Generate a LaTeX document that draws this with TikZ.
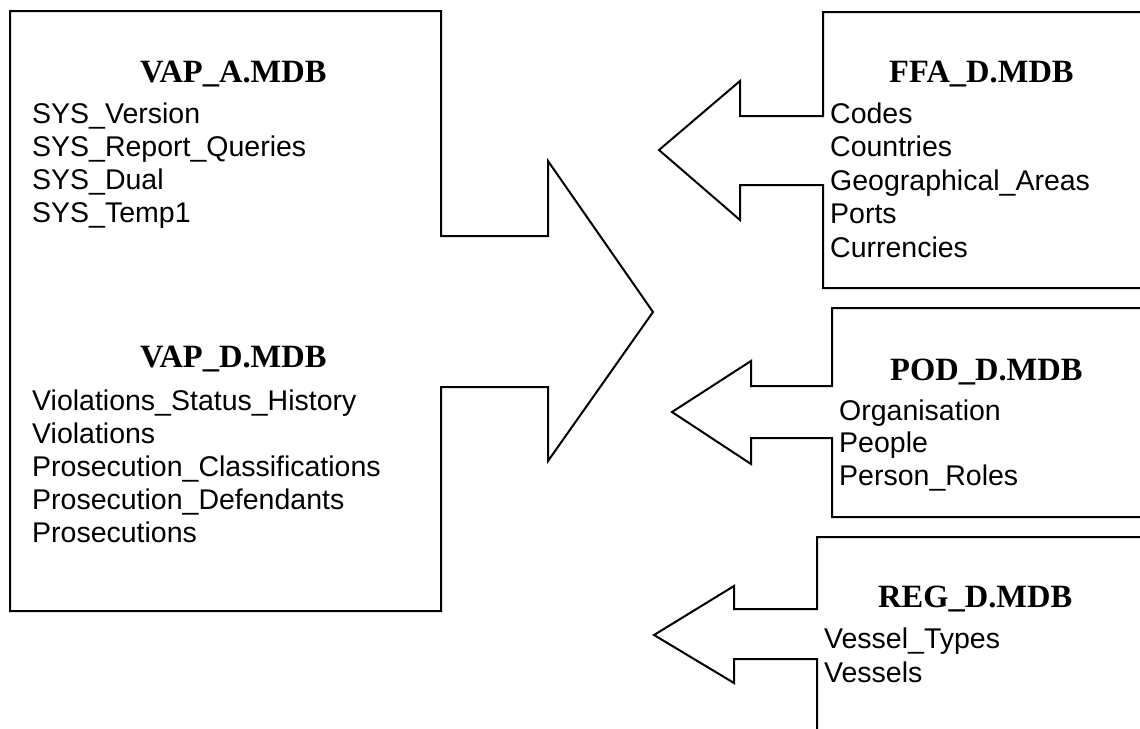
\documentclass[tikz,border=0pt]{standalone}
\usepackage{fontspec}
\setmainfont{Liberation Serif}
\setsansfont{Liberation Sans}
\begin{document}
\begin{tikzpicture}[x=1pt,y=-1pt,
  outline/.style={draw=black,line width=2pt,line join=miter},
  dbtitle/.style={font=\bfseries\fontsize{32.5}{34}\selectfont,anchor=base west,inner sep=0pt},
  dbitem/.style={font=\sffamily\fontsize{28.5}{33}\selectfont,anchor=base west,inner sep=0pt}]
\useasboundingbox (0,0) rectangle (1140,728);
\fill[white] (0,0) rectangle (1140,728);

% left box with outgoing arrow
\draw[outline] (10,11) -- (441,11) -- (441,236) -- (548,236) -- (548,161) -- (653,312)
  -- (548,461) -- (548,387) -- (441,387) -- (441,611) -- (10,611) -- cycle;

% FFA box with arrow
\draw[outline] (1150,12) -- (823,12) -- (823,116) -- (740,116) -- (740,81) -- (659,150)
  -- (740,220) -- (740,185) -- (823,185) -- (823,288) -- (1150,288);
% POD box with arrow
\draw[outline] (1150,308) -- (832,308) -- (832,386) -- (751,386) -- (751,361) -- (672,412)
  -- (751,464) -- (751,438) -- (832,438) -- (832,517) -- (1150,517);
% REG box with arrow
\draw[outline] (1150,537) -- (817,537) -- (817,609) -- (734,609) -- (734,586) -- (654,635)
  -- (734,683) -- (734,659) -- (817,659) -- (817,740);

% VAP_A
\node[dbtitle] (vapa) at (140,82) {VAP\_A.MDB};
\foreach \t [count=\i] in {SYS\_Version,SYS\_Report\_Queries,SYS\_Dual,SYS\_Temp1}
  \node[dbitem] (vapa\i) at (32,{123+33.3*(\i-1)}) {\t};

% VAP_D
\node[dbtitle] (vapd) at (140,367) {VAP\_D.MDB};
\foreach \t [count=\i] in {Violations\_Status\_History,Violations,Prosecution\_Classifications,Prosecution\_Defendants,Prosecutions}
  \node[dbitem] (vapd\i) at (32,{410+33*(\i-1)}) {\t};

% FFA
\node[dbtitle] (ffa) at (889,82) {FFA\_D.MDB};
\foreach \t [count=\i] in {Codes,Countries,Geographical\_Areas,Ports,Currencies}
  \node[dbitem] (ffa\i) at (830,{123+33.5*(\i-1)}) {\t};

% POD
\node[dbtitle] (pod) at (890,380) {POD\_D.MDB};
\foreach \t [count=\i] in {Organisation,People,Person\_Roles}
  \node[dbitem] (pod\i) at (839,{420+32.5*(\i-1)}) {\t};

% REG
\node[dbtitle] (reg) at (878,607) {REG\_D.MDB};
\foreach \t [count=\i] in {Vessel\_Types,Vessels}
  \node[dbitem] (reg\i) at (824,{648+34*(\i-1)}) {\t};
\end{tikzpicture}
\end{document}
